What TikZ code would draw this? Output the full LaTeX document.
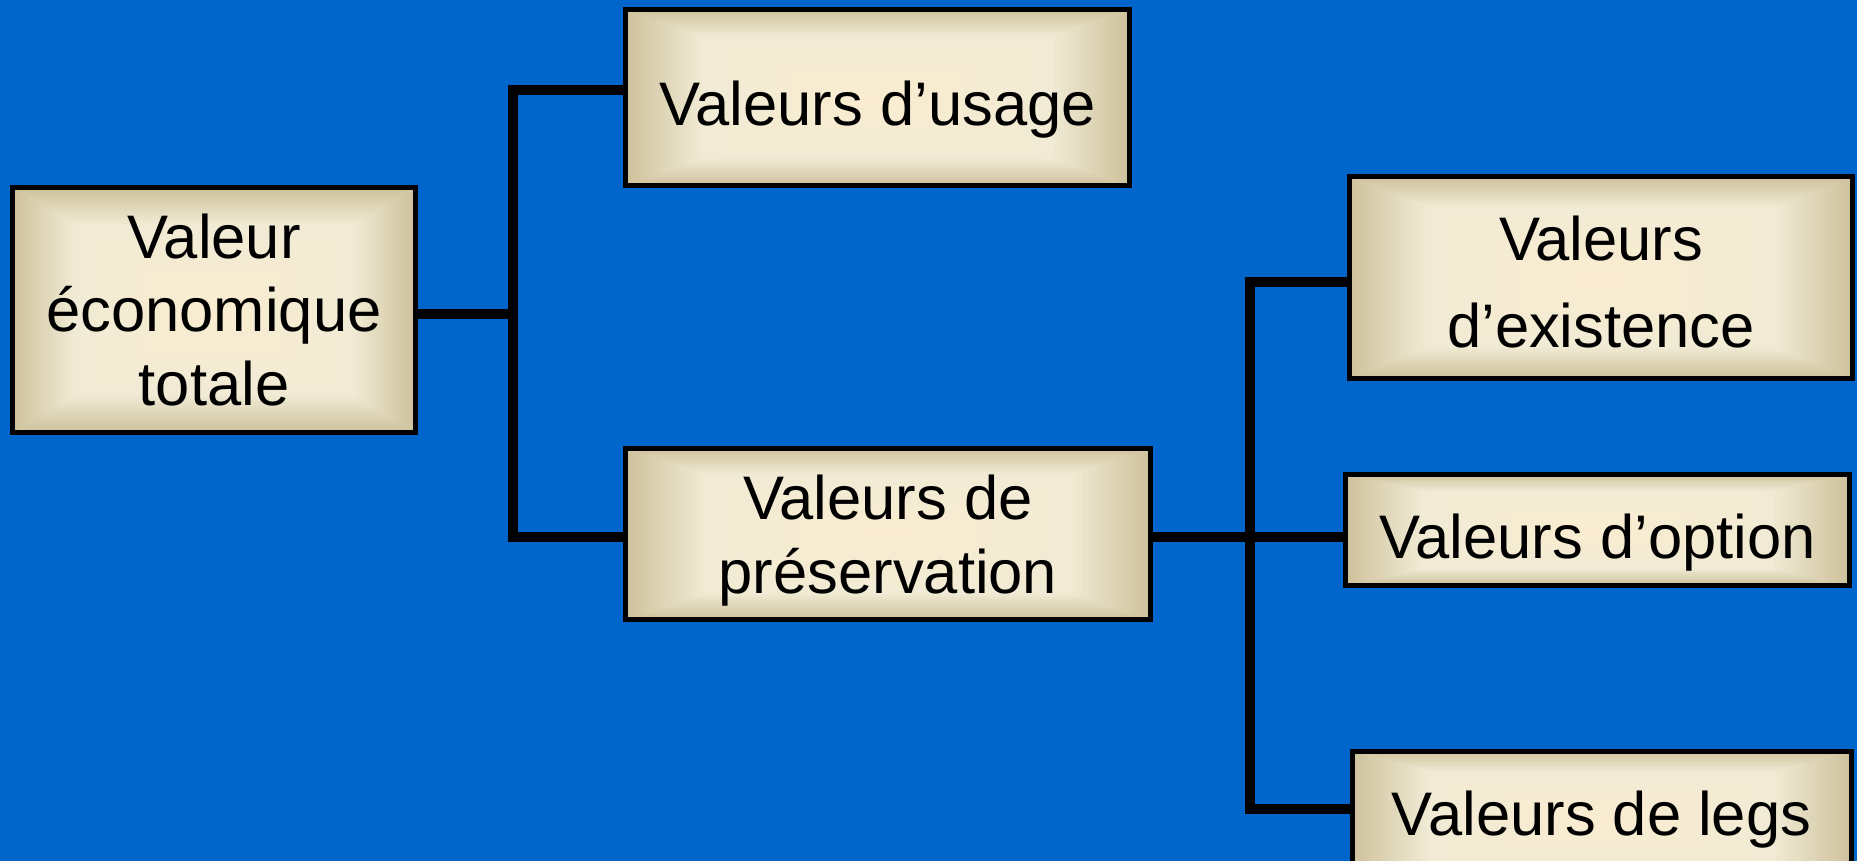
\documentclass[tikz,border=0pt]{standalone}
\usepackage{fontspec}
\setmainfont{Liberation Sans}
\usetikzlibrary{calc}
\definecolor{bg}{RGB}{0,102,204}
\definecolor{tanc}{RGB}{207,195,157}
\definecolor{lightc}{RGB}{241,235,213}
\definecolor{centc}{RGB}{250,236,208}
\tikzset{
  vbox/.style={draw=black, line width=5pt, rectangle, inner sep=0pt, align=center, text=black,
    font=\fontsize{61.5}{73.5}\selectfont,
    path picture={
      \foreach \i in {0,...,15}{
        \pgfmathsetmacro\ff{\i/100}
        \pgfmathsetmacro\pp{\i*100/15}
        \fill[lightc!\pp!tanc] ($(path picture bounding box.south west)!\ff!(path picture bounding box.north east)$) rectangle ($(path picture bounding box.north east)!\ff!(path picture bounding box.south west)$);
      }
      \foreach \i in {1,...,34}{
        \pgfmathsetmacro\ff{0.15+\i/100}
        \pgfmathsetmacro\pp{\i*100/35}
        \fill[centc!\pp!lightc] ($(path picture bounding box.south west)!\ff!(path picture bounding box.north east)$) rectangle ($(path picture bounding box.north east)!\ff!(path picture bounding box.south west)$);
      }
    }},
  link/.style={line width=10.5pt, draw=black, line join=miter},
}
\begin{document}
\begin{tikzpicture}[x=1pt,y=-1pt]
\useasboundingbox (0,0) rectangle (1857,861);
\clip (0,0) rectangle (1857,861);
\fill[bg] (0,0) rectangle (1857,861);
\node[vbox, minimum width=403pt, minimum height=245pt] (A) at (214,310) {Valeur\\économique\\totale};
\node[vbox, minimum width=504pt, minimum height=176pt] (B) at (877.5,97.5) {\rule{0pt}{68pt}Valeurs d’usage};
\node[vbox, minimum width=525pt, minimum height=171pt] (C) at (888,534) {\rule{0pt}{58pt}Valeurs de\\préservation};
\node[vbox, minimum width=503pt, minimum height=202pt, font=\fontsize{61.5}{87.3}\selectfont] (D) at (1601,277.5) {\rule{0pt}{53.6pt}Valeurs\\d’existence};
\node[vbox, minimum width=504pt, minimum height=111pt] (E) at (1597.5,530) {\rule{0pt}{69pt}Valeurs d’option};
\node[vbox, minimum width=499pt, minimum height=137pt] (F) at (1601.5,819.5) {Valeurs de legs};
\coordinate (ja) at (513,314);
\coordinate (j1t) at (513,90);
\coordinate (j1b) at (513,537);
\coordinate (jc) at (1250,537);
\coordinate (j2t) at (1250,282);
\coordinate (j2b) at (1250,809);
\draw[link] (ja -| A.east) -- (ja);
\draw[link] (j1t -| B.west) -- (j1t) -- (j1b) -- (j1b -| C.west);
\draw[link] (jc -| C.east) -- (jc -| E.west);
\draw[link] (j2t -| D.west) -- (j2t) -- (j2b) -- (j2b -| F.west);
\end{tikzpicture}
\end{document}
